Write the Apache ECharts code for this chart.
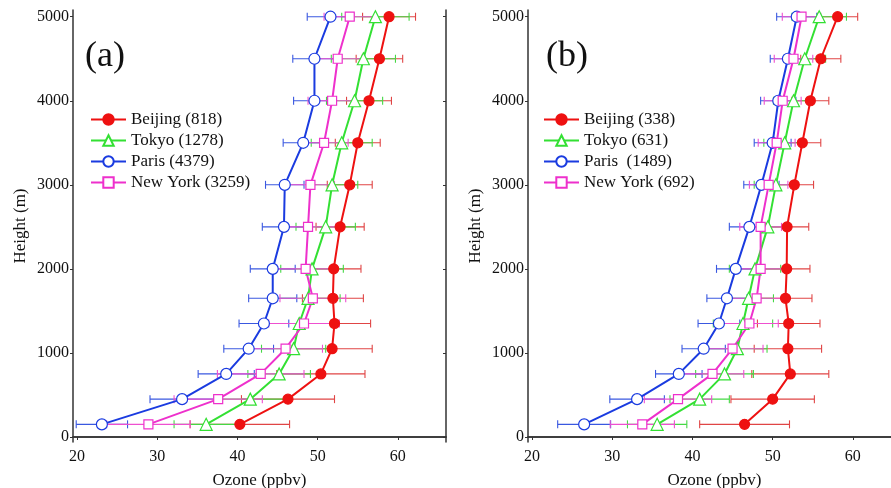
<!DOCTYPE html>
<html><head><meta charset="utf-8">
<script src="https://cdn.jsdelivr.net/npm/echarts@6/dist/echarts.min.js"></script>
<style>html,body{margin:0;padding:0;background:#fff}#c{width:891px;height:488px}</style>
</head><body><div id="c"></div>
<script>
const heights = [150,450,750,1050,1350,1650,2000,2500,3000,3500,4000,4500,5000];
const xTicks = [20,30,40,50,60];
const yTicks = [0,1000,2000,3000,4000,5000];

const beijingA    = [40.3,46.3,50.4,51.8,52.1,51.9,52.0,52.8,54.0,55.0,56.4,57.7,58.9];
const beijingAErr = [6.2,5.8,5.5,5.0,4.5,3.8,3.4,3.0,2.8,2.8,2.8,2.9,3.3];
const tokyoA      = [36.1,41.6,45.2,47.0,47.7,48.8,49.3,51.0,51.8,53.0,54.6,55.7,57.2];
const tokyoAErr   = [4.0,4.5,3.9,4.0,4.0,4.0,3.9,3.7,3.2,3.8,3.5,4.0,4.2];
const parisA      = [23.1,33.1,38.6,41.4,43.3,44.4,44.4,45.8,45.9,48.2,49.6,49.6,51.6];
const parisAErr   = [3.2,4.0,3.5,3.1,3.1,3.0,2.8,2.7,2.4,2.5,2.6,2.7,2.9];
const nyA         = [28.9,37.6,42.9,46.0,48.3,49.4,48.5,48.8,49.1,50.8,51.8,52.5,54.0];
const nyAErr      = [5.2,5.5,5.4,4.6,4.4,4.1,3.6,3.5,3.0,3.0,3.0,3.0,3.2];

const beijingB    = [46.5,50.0,52.2,51.9,52.0,51.6,51.75,51.8,52.7,53.7,54.7,56.0,58.1];
const beijingBErr = [5.6,5.2,4.8,4.2,3.9,3.3,2.9,2.7,2.4,2.3,2.3,2.5,2.5];
const tokyoB      = [35.6,40.9,44.0,45.6,46.3,47.0,47.8,49.4,50.4,51.5,52.6,54.0,55.8];
const tokyoBErr   = [3.7,3.7,3.6,3.7,3.7,3.1,3.2,2.6,2.7,2.6,2.5,2.6,3.4];
const parisB      = [26.5,33.1,38.3,41.4,43.3,44.3,45.4,47.1,48.6,50.0,50.7,51.9,53.0];
const parisBErr   = [3.3,3.4,2.9,2.7,2.6,2.5,2.4,2.5,2.2,2.3,2.2,2.2,2.5];
const nyB         = [33.75,38.2,42.5,45.0,47.1,48.0,48.5,48.5,49.5,50.5,51.25,52.6,53.6];
const nyBErr      = [4.0,4.2,3.9,3.8,3.6,3.3,3.0,2.6,2.4,2.3,2.3,2.4,2.4];

const namesA = ['Beijing (818)','Tokyo (1278)','Paris (4379)','New York (3259)'];
const namesB = ['Beijing (338)','Tokyo (631)','Paris  (1489)','New York (692)'];

const FONT = "'Liberation Serif','DejaVu Serif',serif";
const RED = '#ee1111', GREEN = '#33e033', BLUE = '#1a3be0', MAG = '#ee30cc';
const styles = [
  {color: RED,   err: '#e04545', symbol: 'circle',   size: 10, fill: RED},
  {color: GREEN, err: '#45d845', symbol: 'triangle', size: 12, fill: '#fff'},
  {color: BLUE,  err: '#3a58e0', symbol: 'circle',   size: 11, fill: '#fff'},
  {color: MAG,   err: '#ee50d0', symbol: 'rect',     size: 9,  fill: '#fff'}
];

function errRender(color){
  return function(params, api){
    const x = api.value(0), y = api.value(1), e = api.value(2);
    const p1 = api.coord([x - e, y]), p2 = api.coord([x + e, y]);
    const h = 4;
    const st = {stroke: color, lineWidth: 1.1};
    return {type: 'group', children: [
      {type: 'line', shape: {x1: p1[0], y1: p1[1], x2: p2[0], y2: p2[1]}, style: st},
      {type: 'line', shape: {x1: p1[0], y1: p1[1]-h, x2: p1[0], y2: p1[1]+h}, style: st},
      {type: 'line', shape: {x1: p2[0], y1: p2[1]-h, x2: p2[0], y2: p2[1]+h}, style: st}
    ]};
  };
}

const series = [];
function addPanel(idx, names, vals, errs){
  for (let k = 0; k < 4; k++){
    const s = styles[k];
    series.push({
      type: 'custom', name: 'err' + idx + k, xAxisIndex: idx*2, yAxisIndex: idx*2, z: 1,
      renderItem: errRender(s.err), encode: {x: 0, y: 1},
      data: heights.map((h, i) => [vals[k][i], h, errs[k][i]]), silent: true
    });
  }
  for (let k = 0; k < 4; k++){
    const s = styles[k];
    series.push({
      type: 'line', name: names[k], xAxisIndex: idx*2, yAxisIndex: idx*2, z: 3,
      symbol: s.symbol, symbolSize: s.size, showAllSymbol: true,
      lineStyle: {color: s.color, width: 2},
      itemStyle: {color: s.fill, borderColor: s.color, borderWidth: 1.2},
      data: heights.map((h, i) => [vals[k][i], h]),
      animation: false
    });
  }
}
addPanel(0, namesA, [beijingA, tokyoA, parisA, nyA], [beijingAErr, tokyoAErr, parisAErr, nyAErr]);
addPanel(1, namesB, [beijingB, tokyoB, parisB, nyB], [beijingBErr, tokyoBErr, parisBErr, nyBErr]);

const axisLine = {show: true, lineStyle: {color: '#333', width: 1.5}};
const labelStyle = {fontFamily: FONT, fontSize: 16, color: '#111', formatter: v => String(v)};
function xAx(grid, pos){
  const bottom = pos === 'bottom';
  return {
    type: 'value', gridIndex: grid, position: pos, min: 19.5, max: 66,
    axisLine: axisLine, splitLine: {show: false},
    axisTick: {show: true, inside: !bottom, length: 3, customValues: xTicks, lineStyle: {color: '#333'}},
    axisLabel: bottom ? Object.assign({customValues: xTicks, margin: 7}, labelStyle) : {show: false},
    name: bottom ? 'Ozone (ppbv)' : '', nameLocation: 'middle', nameGap: 30,
    nameTextStyle: {fontFamily: FONT, fontSize: 17, color: '#111'}
  };
}
function yAx(grid, pos){
  const left = pos === 'left';
  return {
    type: 'value', gridIndex: grid, position: pos, min: -60, max: 5080,
    axisLine: axisLine, splitLine: {show: false},
    axisTick: {show: true, inside: !left, length: 3, customValues: yTicks, lineStyle: {color: '#333'}},
    axisLabel: left ? Object.assign({customValues: yTicks, margin: 4}, labelStyle) : {show: false},
    name: left ? 'Height (m)' : '', nameLocation: 'middle', nameGap: 44, nameRotate: 90,
    nameTextStyle: {fontFamily: FONT, fontSize: 17, color: '#111'}
  };
}

function legend(left, names){
  return {
    data: names.map((n, k) => ({name: n})), orient: 'vertical', left: left, top: 111,
    padding: 0, itemWidth: 35, itemHeight: 13, itemGap: 4,
    textStyle: {fontFamily: FONT, fontSize: 17, color: '#111'},
    selectedMode: false
  };
}

const chart = echarts.init(document.getElementById('c'), null, {renderer: 'canvas'});
chart.setOption({
  animation: false,
  backgroundColor: '#fff',
  grid: [
    {left: 73, top: 10, width: 373, height: 432, containLabel: false, outerBoundsMode: 'none'},
    {left: 528, top: 10, width: 373, height: 432, containLabel: false, outerBoundsMode: 'none'}
  ],
  xAxis: [xAx(0,'bottom'), xAx(0,'top'), xAx(1,'bottom'), xAx(1,'top')],
  yAxis: [yAx(0,'left'), yAx(0,'right'), yAx(1,'left'), yAx(1,'right')],
  legend: [legend(90, namesA), legend(543, namesB)],
  graphic: [
    {type: 'text', left: 85, top: 39, style: {text: '(a)', font: "36px 'Liberation Serif', serif", fill: '#111'}},
    {type: 'text', left: 546, top: 39, style: {text: '(b)', font: "36px 'Liberation Serif', serif", fill: '#111'}}
  ],
  series: series
});
</script></body></html>
